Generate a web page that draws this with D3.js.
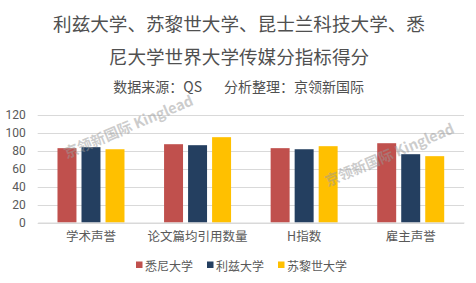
<!DOCTYPE html>
<html>
<head>
<meta charset="utf-8">
<script src="https://cdn.jsdelivr.net/npm/d3@7"></script>
<style>
body { margin: 0; background: #fff; }
text { font-family: "Noto Sans CJK SC", "Microsoft YaHei", sans-serif; }
</style>
</head>
<body>
<svg id="chart" width="476" height="283"></svg>
<script>
var categories = ['学术声誉', '论文篇均引用数量', 'H指数', '雇主声誉'];
var series_names = ['悉尼大学', '利兹大学', '苏黎世大学'];
var series_colors = ['#C0504D', '#243F60', '#FFC000'];
var sydney = [82.6, 87, 82.6, 88.1];
var leeds = [83.7, 85.9, 81.4, 75.9];
var zurich = [81.4, 94.8, 84.8, 73.7];
var y_ticks = [0, 20, 40, 60, 80, 100, 120];

var svg = d3.select('#chart');

var left = 37.7, right = 464, top_y = 114.5, bottom = 222.5;

var x = d3.scaleBand().domain(categories).range([left, right]).paddingInner(0).paddingOuter(0);
var x_inner = d3.scaleBand().domain(series_names).range([0, 67]).paddingInner(0.21);
var y = d3.scaleLinear().domain([0, 120]).range([bottom, top_y]);

// title
var title = svg.append('g').attr('fill', '#505050').attr('text-anchor', 'middle');
title.append('text').attr('x', 239).attr('y', 31).attr('font-size', 18.6)
	.text('利兹大学、苏黎世大学、昆士兰科技大学、悉');
title.append('text').attr('x', 239).attr('y', 64).attr('font-size', 18.6)
	.text('尼大学世界大学传媒分指标得分');
title.append('text').attr('x', 202).attr('y', 92).attr('font-size', 14)
	.attr('text-anchor', 'end')
	.text('数据来源：QS');
title.append('text').attr('x', 224).attr('y', 92).attr('font-size', 14)
	.attr('text-anchor', 'start')
	.text('分析整理：京领新国际');

// grid
svg.append('g')
	.selectAll('line')
	.data(y_ticks)
	.enter()
	.append('line')
		.attr('x1', left)
		.attr('x2', right)
		.attr('y1', function(d) { return Math.round(y(d)) + 0.5; })
		.attr('y2', function(d) { return Math.round(y(d)) + 0.5; })
		.attr('stroke', '#d9d9d9')
		.attr('stroke-width', 1);

// y axis labels
var y_axis = d3.axisLeft(y).tickValues(y_ticks).tickSize(0).tickPadding(12);
var yg = svg.append('g').attr('transform', 'translate(' + left + ',0)').call(y_axis);
yg.select('.domain').remove();
yg.selectAll('text').attr('fill', '#595959').attr('font-size', 12)
	.style('font-family', 'Roboto, "Noto Sans CJK SC", sans-serif');

// bars
var rows = categories.map(function(c, i) {
	return { cat: c, vals: [sydney[i], leeds[i], zurich[i]] };
});

var groups = svg.append('g')
	.selectAll('g')
	.data(rows)
	.enter()
	.append('g')
		.attr('transform', function(d) { return 'translate(' + (x(d.cat) + (x.bandwidth() - 67) / 2) + ',0)'; });

groups.selectAll('rect')
	.data(function(d) { return d.vals.map(function(v, j) { return { name: series_names[j], v: v, c: series_colors[j] }; }); })
	.enter()
	.append('rect')
		.attr('x', function(d) { return x_inner(d.name); })
		.attr('width', x_inner.bandwidth())
		.attr('y', function(d) { return y(d.v); })
		.attr('height', function(d) { return bottom - y(d.v); })
		.attr('fill', function(d) { return d.c; });

// x axis
var x_axis = d3.axisBottom(x).tickSize(0).tickPadding(10);
var xg = svg.append('g').attr('transform', 'translate(0,' + bottom + ')').call(x_axis);
xg.select('.domain').attr('stroke', '#d9d9d9');
xg.selectAll('text').attr('fill', '#595959').attr('font-size', 12.5);

// watermark
var marks = [[129, 128], [390, 156]];
svg.append('g')
	.selectAll('text')
	.data(marks)
	.enter()
	.append('text')
		.attr('transform', function(d) { return 'translate(' + d[0] + ',' + d[1] + ') rotate(-23)'; })
		.attr('text-anchor', 'middle')
		.attr('dominant-baseline', 'middle')
		.attr('font-size', 14.5)
		.attr('font-weight', 'bold')
		.attr('fill', '#999')
		.attr('fill-opacity', 0.5)
		.text('京领新国际 Kinglead');

// legend
var legend_x = [136, 207, 278];
var legend = svg.append('g')
	.selectAll('g')
	.data(series_names)
	.enter()
	.append('g')
		.attr('transform', function(d, i) { return 'translate(' + legend_x[i] + ',265)'; });
legend.append('rect')
	.attr('x', 0).attr('y', -3.5).attr('width', 6.5).attr('height', 6.5)
	.attr('fill', function(d, i) { return series_colors[i]; });
legend.append('text')
	.attr('x', 9).attr('y', 0).attr('dominant-baseline', 'central')
	.attr('font-size', 12).attr('fill', '#595959')
	.text(function(d) { return d; });
</script>
</body>
</html>
